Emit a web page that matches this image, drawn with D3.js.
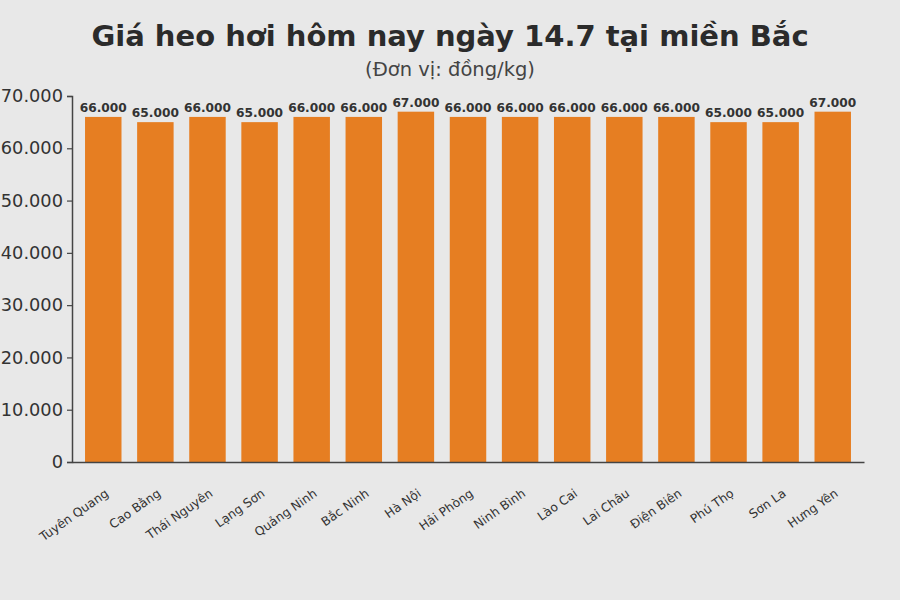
<!DOCTYPE html>
<html>
<head>
<meta charset="utf-8">
<script src="https://cdn.jsdelivr.net/npm/d3@7"></script>
<style>
  body { margin: 0; background: #e8e8e8; }
  svg { display: block; font-family: 'DejaVu Sans', sans-serif; }
</style>
</head>
<body>
<div id="chart"></div>
<script>
const provinces = ['Tuyên Quang', 'Cao Bằng', 'Thái Nguyên', 'Lạng Sơn', 'Quảng Ninh', 'Bắc Ninh', 'Hà Nội',
  'Hải Phòng', 'Ninh Bình', 'Lào Cai', 'Lai Châu', 'Điện Biên', 'Phú Thọ', 'Sơn La', 'Hưng Yên'];
const prices = [66000, 65000, 66000, 65000, 66000, 66000, 67000, 66000, 66000, 66000, 66000, 66000, 65000, 65000, 67000];
const yTicks = [0, 10000, 20000, 30000, 40000, 50000, 60000, 70000];

const width = 900, height = 600;
const margin = { top: 96, right: 36, bottom: 138, left: 72 };

const fmt = v => d3.format(',')(v).replace(/,/g, '.');

const svg = d3.select('#chart')
  .append('svg')
  .attr('width', width)
  .attr('height', height);

svg.append('rect')
  .attr('width', width)
  .attr('height', height)
  .attr('fill', '#e8e8e8');

svg.append('text')
  .attr('x', width / 2)
  .attr('y', 46)
  .attr('text-anchor', 'middle')
  .style('font-size', '29px')
  .style('font-weight', 'bold')
  .style('fill', '#2b2b2b')
  .text('Giá heo hơi hôm nay ngày 14.7 tại miền Bắc');

svg.append('text')
  .attr('x', width / 2)
  .attr('y', 76)
  .attr('text-anchor', 'middle')
  .style('font-size', '19.5px')
  .style('fill', '#444')
  .text('(Đơn vị: đồng/kg)');

const x = d3.scaleLinear()
  .domain([-0.6, provinces.length - 0.4])
  .range([margin.left, width - margin.right]);
const y = d3.scaleLinear()
  .domain([0, 70000])
  .range([height - margin.bottom, margin.top]);

const barW = (x(1) - x(0)) * 0.7;
const g = svg.append('g');

g.selectAll('rect.bar')
  .data(prices)
  .enter()
  .append('rect')
  .attr('class', 'bar')
  .attr('x', (d, i) => x(i) - barW / 2)
  .attr('y', d => y(d))
  .attr('width', barW)
  .attr('height', d => y(0) - y(d))
  .attr('fill', '#e67e22');

g.selectAll('text.val')
  .data(prices)
  .enter()
  .append('text')
  .attr('class', 'val')
  .attr('x', (d, i) => x(i))
  .attr('y', d => y(d) - 5)
  .attr('text-anchor', 'middle')
  .style('font-size', '12.2px')
  .style('font-weight', 'bold')
  .style('fill', '#333')
  .text(d => fmt(d));

// y axis
const yAxis = svg.append('g')
  .attr('transform', `translate(${margin.left},0)`)
  .call(d3.axisLeft(y).tickValues(yTicks).tickFormat(fmt).tickSize(5).tickPadding(4));
yAxis.select('.domain').attr('stroke', '#444').attr('stroke-width', 1.5);
yAxis.selectAll('.tick line').attr('stroke', '#444').attr('stroke-width', 1.2);
yAxis.selectAll('.tick text')
  .style('font-size', '17.8px')
  .style('font-family', "'DejaVu Sans', sans-serif")
  .attr('fill', '#333');

// x axis
const xAxis = svg.append('g')
  .attr('transform', `translate(0,${y(0)})`)
  .call(d3.axisBottom(x).tickValues(d3.range(provinces.length)).tickFormat(i => provinces[i]).tickSize(0).tickPadding(10));
xAxis.select('.domain').attr('stroke', '#444').attr('stroke-width', 1.5);
xAxis.selectAll('.tick text')
  .style('font-size', '12.3px')
  .style('font-family', "'DejaVu Sans', sans-serif")
  .attr('fill', '#333')
  .attr('text-anchor', 'end')
  .attr('dy', '0.7em')
  .attr('transform', 'translate(-5,18) rotate(-35)');
</script>
</body>
</html>
